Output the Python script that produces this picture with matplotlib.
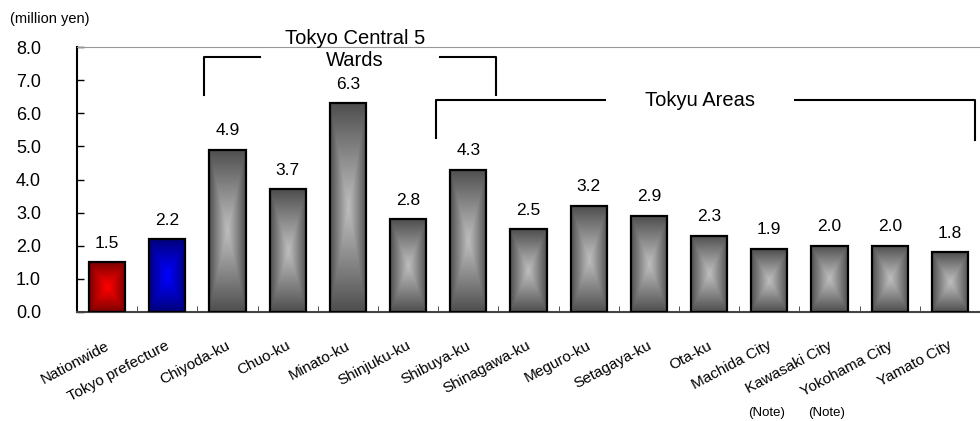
import numpy as np
import matplotlib
matplotlib.use('Agg')
import matplotlib.pyplot as plt
from matplotlib.patches import Rectangle
from matplotlib.colors import to_rgb

plt.rcParams['font.family'] = ['Liberation Sans', 'DejaVu Sans']

areas = ['Nationwide', 'Tokyo prefecture', 'Chiyoda-ku', 'Chuo-ku', 'Minato-ku',
         'Shinjuku-ku', 'Shibuya-ku', 'Shinagawa-ku', 'Meguro-ku', 'Setagaya-ku',
         'Ota-ku', 'Machida City', 'Kawasaki City', 'Yokohama City', 'Yamato City']
values = [1.5, 2.2, 4.9, 3.7, 6.3, 2.8, 4.3, 2.5, 3.2, 2.9, 2.3, 1.9, 2.0, 2.0, 1.8]
yticks = [0, 1, 2, 3, 4, 5, 6, 7, 8]
noted = ['Machida City', 'Kawasaki City']

# edge colour, centre colour
shades = {'Nationwide': ('#7a0000', '#ff0000'),
          'Tokyo prefecture': ('#00007a', '#0000ff')}
gray = ('#4e4e4e', '#bdbdbd')

fig = plt.figure(figsize=(9.8, 4.21), dpi=100)
ax = fig.add_axes([0.0786, 0.259, 0.9214, 0.629])

x = np.arange(len(areas))
w = 0.6

# rectangular path gradient
n = 120
u = np.linspace(-1, 1, n)
U, V = np.meshgrid(u, u)
t = np.maximum(np.abs(U), np.abs(V)) ** 1.1

for xi, name, v in zip(x, areas, values):
    edge, centre = shades.get(name, gray)
    e = np.array(to_rgb(edge))
    c = np.array(to_rgb(centre))
    img = c[None, None, :] * (1 - t[..., None]) + e[None, None, :] * t[..., None]
    rect = Rectangle((xi - w / 2, 0), w, v, facecolor='none', edgecolor='black',
                     lw=1.6, zorder=3)
    ax.add_patch(rect)
    im = ax.imshow(img, extent=(xi - w / 2, xi + w / 2, 0, v), aspect='auto',
                   zorder=2, interpolation='bilinear')
    im.set_clip_path(rect)
    ax.text(xi, v + 0.35, f'{v:.1f}', ha='center', va='bottom', fontsize=12.5)

ax.set_xlim(-0.5, len(areas) - 0.5)
ax.set_ylim(0, 8)
ax.set_yticks(yticks)
ax.set_yticklabels([f'{y:.1f}' for y in yticks], fontsize=13)
ax.tick_params(axis='y', direction='in', length=5, pad=26, width=1)

ax.set_xticks(x)
ax.set_xticklabels([])
ax.set_xticks(np.arange(len(areas) - 1) + 0.5, minor=True)
ax.tick_params(axis='x', which='major', length=0)
ax.tick_params(axis='x', which='minor', direction='in', length=4, color='#333333')

for xi, name in zip(x, areas):
    ax.text(xi - 0.03, -0.8, name, rotation=28, ha='right', va='top',
            rotation_mode='anchor', fontsize=11)
    if name in noted:
        ax.text(xi - 0.05, -3.05, '(Note)', ha='center', va='center', fontsize=9.5)

ax.spines['right'].set_visible(False)
ax.spines['top'].set_color('#999999')
ax.spines['left'].set_linewidth(1.5)
ax.spines['bottom'].set_color('#444444')
ax.spines['bottom'].set_linewidth(1.5)

fig.text(0.01, 0.955, '(million yen)', fontsize=10.5, ha='left', va='center')

# bracket: Tokyo Central 5 Wards
br = dict(color='black', lw=1.5, clip_on=False)
ax.plot([1.61, 1.61, 2.54], [6.56, 7.70, 7.70], **br)
ax.plot([5.53, 6.46, 6.46], [7.70, 7.70, 6.56], **br)
ax.text(4.12, 8.25, 'Tokyo Central 5', ha='center', va='center', fontsize=14.5)
ax.text(4.12, 7.61, 'Wards', ha='center', va='center', fontsize=14.5)

# bracket: Tokyu Areas
ax.plot([5.46, 5.46, 8.27], [5.26, 6.40, 6.40], **br)
ax.plot([11.43, 14.42, 14.42], [6.40, 6.40, 5.20], **br)
ax.text(9.85, 6.40, 'Tokyu Areas', ha='center', va='center', fontsize=14.5)

fig.savefig('out.png', dpi=100)
